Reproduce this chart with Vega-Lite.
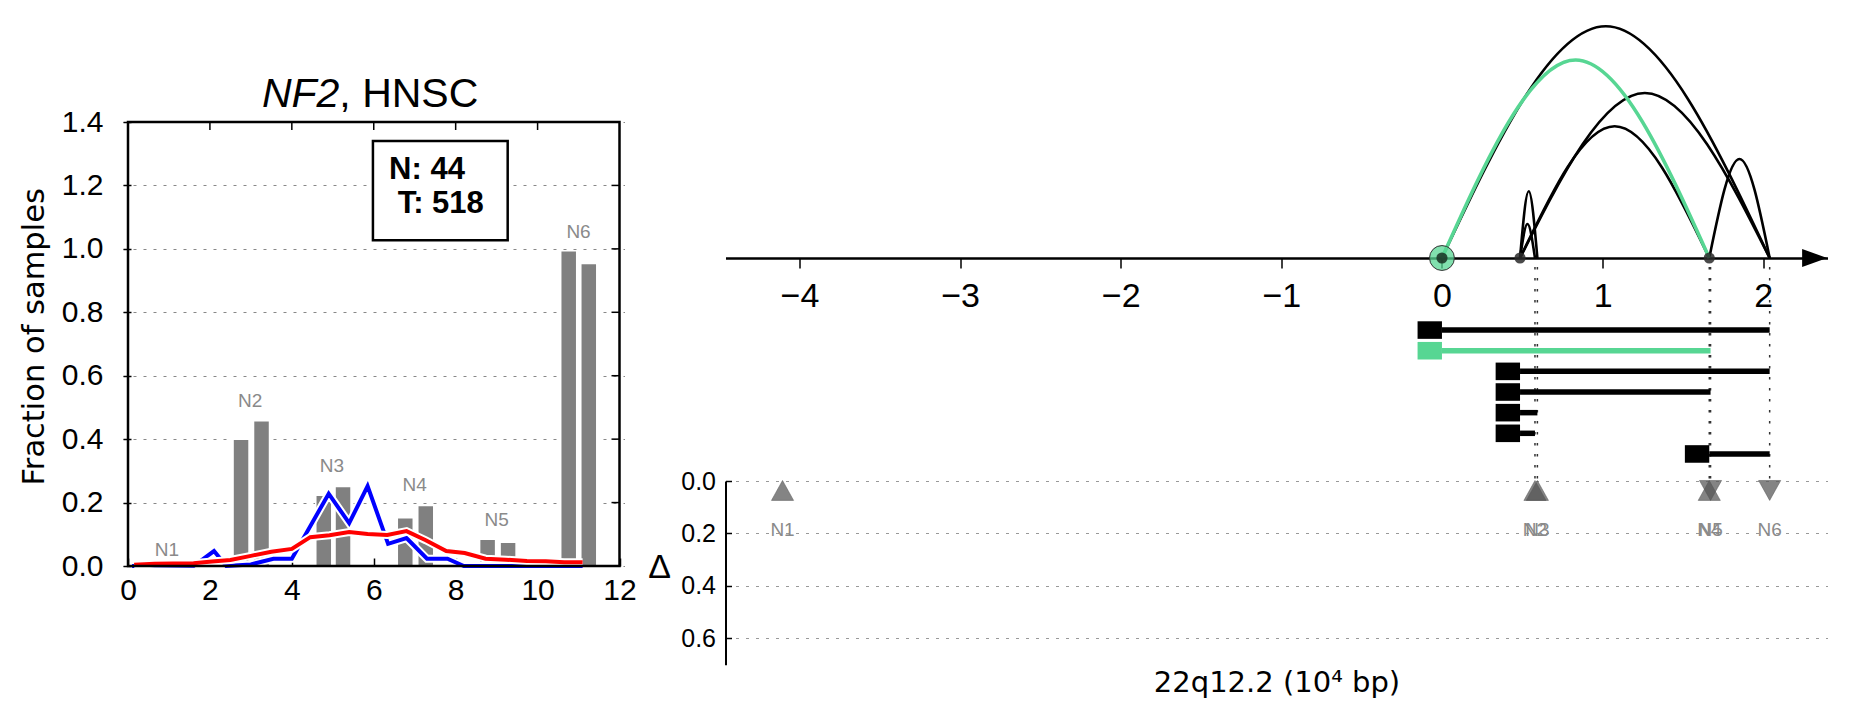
{
  "$schema": "https://vega.github.io/schema/vega-lite/v6.json",
  "background": "white",
  "padding": {"left": 19, "top": 21, "right": 0, "bottom": 0},
  "config": {
    "font": "Liberation Sans",
    "view": {"stroke": null},
    "axis": {"labelFont": "Liberation Sans", "titleFont": "Liberation Sans", "labelColor": "black", "titleColor": "black", "titleFontWeight": "normal", "domainColor": "black", "tickColor": "black"}
  },
  "datasets": {
    "bars": [
      {"pos": 2.76, "frac": 0.40}, {"pos": 3.26, "frac": 0.458},
      {"pos": 4.78, "frac": 0.223}, {"pos": 5.25, "frac": 0.251},
      {"pos": 6.77, "frac": 0.152}, {"pos": 7.27, "frac": 0.191},
      {"pos": 8.78, "frac": 0.084}, {"pos": 9.28, "frac": 0.075},
      {"pos": 10.76, "frac": 0.994}, {"pos": 11.25, "frac": 0.954}
    ],
    "blue": [
      {"x": 0.1, "y": 0}, {"x": 0.6, "y": 0}, {"x": 1.1, "y": 0}, {"x": 1.6, "y": 0},
      {"x": 2.1, "y": 0.047}, {"x": 2.4, "y": 0}, {"x": 3.0, "y": 0.005}, {"x": 3.55, "y": 0.023},
      {"x": 4.0, "y": 0.023}, {"x": 4.9, "y": 0.228}, {"x": 5.4, "y": 0.135}, {"x": 5.85, "y": 0.252},
      {"x": 6.35, "y": 0.07}, {"x": 6.8, "y": 0.088}, {"x": 7.3, "y": 0.023}, {"x": 7.8, "y": 0.023},
      {"x": 8.2, "y": 0}, {"x": 8.7, "y": 0}, {"x": 9.2, "y": 0}, {"x": 9.7, "y": 0},
      {"x": 10.2, "y": 0}, {"x": 10.65, "y": 0}, {"x": 11.1, "y": 0}
    ],
    "red": [
      {"x": 0.15, "y": 0.004}, {"x": 0.65, "y": 0.007}, {"x": 1.1, "y": 0.008}, {"x": 1.6, "y": 0.009},
      {"x": 2.05, "y": 0.014}, {"x": 2.5, "y": 0.019}, {"x": 3.0, "y": 0.032}, {"x": 3.5, "y": 0.045},
      {"x": 4.0, "y": 0.054}, {"x": 4.45, "y": 0.091}, {"x": 4.92, "y": 0.097}, {"x": 5.4, "y": 0.107},
      {"x": 5.85, "y": 0.101}, {"x": 6.33, "y": 0.098}, {"x": 6.8, "y": 0.11}, {"x": 7.27, "y": 0.081},
      {"x": 7.77, "y": 0.047}, {"x": 8.22, "y": 0.041}, {"x": 8.73, "y": 0.023}, {"x": 9.23, "y": 0.02},
      {"x": 9.74, "y": 0.016}, {"x": 10.2, "y": 0.015}, {"x": 10.65, "y": 0.012}, {"x": 11.1, "y": 0.012}
    ],
    "barlabels": [
      {"name": "N1", "x": 0.95, "y": 0.05}, {"name": "N2", "x": 2.98, "y": 0.52},
      {"name": "N3", "x": 4.98, "y": 0.315}, {"name": "N4", "x": 7.0, "y": 0.255},
      {"name": "N5", "x": 9.0, "y": 0.145}, {"name": "N6", "x": 11.0, "y": 1.053}
    ],
    "yt": [{"v": 0.2}, {"v": 0.4}, {"v": 0.6}, {"v": 0.8}, {"v": 1.0}, {"v": 1.2}],
    "xt": [{"v": 2}, {"v": 4}, {"v": 6}, {"v": 8}, {"v": 10}],
    "arcs": [
      {"id": "A", "x": 0, "h": 0}, {"id": "A", "x": 1.02, "h": 231.7}, {"id": "A", "x": 2.04, "h": 0},
      {"id": "C", "x": 0.486, "h": 0}, {"id": "C", "x": 1.263, "h": 165}, {"id": "C", "x": 2.04, "h": 0},
      {"id": "D", "x": 0.486, "h": 0}, {"id": "D", "x": 1.075, "h": 131.7}, {"id": "D", "x": 1.664, "h": 0},
      {"id": "E", "x": 0.486, "h": 0}, {"id": "E", "x": 0.54, "h": 66.7}, {"id": "E", "x": 0.594, "h": 0},
      {"id": "F", "x": 0.486, "h": 0}, {"id": "F", "x": 0.5325, "h": 34}, {"id": "F", "x": 0.579, "h": 0},
      {"id": "G", "x": 1.664, "h": 0}, {"id": "G", "x": 1.852, "h": 99}, {"id": "G", "x": 2.04, "h": 0}
    ],
    "arcsel": [
      {"id": "B", "x": 0, "h": 0}, {"id": "B", "x": 0.832, "h": 198}, {"id": "B", "x": 1.664, "h": 0}
    ],
    "nodes": [{"x": 0.486}, {"x": 1.664}],
    "segs": [
      {"row": 1, "start": 0, "end": 2.04, "kind": "other"},
      {"row": 2, "start": 0, "end": 1.672, "kind": "selected"},
      {"row": 3, "start": 0.486, "end": 2.04, "kind": "other"},
      {"row": 4, "start": 0.486, "end": 1.672, "kind": "other"},
      {"row": 5, "start": 0.486, "end": 0.594, "kind": "other"},
      {"row": 6, "start": 0.486, "end": 0.579, "kind": "other"},
      {"row": 7, "start": 1.664, "end": 2.04, "kind": "other"}
    ],
    "bp": [
      {"name": "N1", "x": -4.105, "dir": "up", "delta": 0.036},
      {"name": "N2", "x": 0.579, "dir": "up", "delta": 0.036},
      {"name": "N3", "x": 0.594, "dir": "up", "delta": 0.036},
      {"name": "N4", "x": 1.664, "dir": "up", "delta": 0.036},
      {"name": "N5", "x": 1.672, "dir": "down", "delta": 0.036},
      {"name": "N6", "x": 2.04, "dir": "down", "delta": 0.036}
    ]
  },
  "hconcat": [
    {
      "width": 501.5,
      "height": 542,
      "layer": [
        {
          "data": {"name": "bars"},
          "mark": {"type": "bar", "width": 16, "fill": "#808080", "stroke": "white", "strokeWidth": 1.5},
          "encoding": {
            "x": {"field": "pos", "type": "quantitative", "scale": {"domain": [0, 12], "nice": false, "zero": false},
                  "axis": {"values": [0, 2, 4, 6, 8, 10, 12], "format": "d", "title": null, "grid": false, "domain": false, "tickSize": -8, "tickWidth": 1.5, "labelFontSize": 30, "labelPadding": 17}},
            "y": {"field": "frac", "type": "quantitative", "scale": {"domain": [0, 1.4], "nice": false, "range": [542, 98]},
                  "axis": {"values": [0, 0.2, 0.4, 0.6, 0.8, 1.0, 1.2, 1.4], "format": ".1f", "title": "Fraction of samples", "titleFont": "DejaVu Sans", "titleFontSize": 30.5, "titleAngle": 270, "titleX": -80, "titleY": 312.3, "titleAlign": "center", "titleBaseline": "alphabetic", "grid": true, "gridDash": [3, 7], "gridColor": "#888", "gridWidth": 1, "domain": false, "tickSize": -8, "tickWidth": 1.5, "labelFontSize": 30, "labelPadding": 28}}
          }
        },
        {
          "data": {"name": "blue"},
          "mark": {"type": "line", "stroke": "white", "strokeWidth": 8},
          "encoding": {"x": {"field": "x", "type": "quantitative"}, "y": {"field": "y", "type": "quantitative"}}
        },
        {
          "data": {"name": "blue"},
          "mark": {"type": "line", "stroke": "#0000ff", "strokeWidth": 4},
          "encoding": {"x": {"field": "x", "type": "quantitative"}, "y": {"field": "y", "type": "quantitative"}}
        },
        {
          "data": {"name": "red"},
          "mark": {"type": "line", "stroke": "white", "strokeWidth": 8},
          "encoding": {"x": {"field": "x", "type": "quantitative"}, "y": {"field": "y", "type": "quantitative"}}
        },
        {
          "data": {"name": "red"},
          "mark": {"type": "line", "stroke": "#ff0000", "strokeWidth": 4},
          "encoding": {"x": {"field": "x", "type": "quantitative"}, "y": {"field": "y", "type": "quantitative"}}
        },
        {
          "data": {"name": "barlabels"},
          "mark": {"type": "text", "fontSize": 19, "fill": "#8a8a8a", "baseline": "middle", "align": "center"},
          "encoding": {"x": {"field": "x", "type": "quantitative"}, "y": {"field": "y", "type": "quantitative"}, "text": {"field": "name"}}
        },
        {
          "data": {"values": [{}]},
          "mark": {"type": "rect", "fill": "white", "stroke": "black", "strokeWidth": 2.5},
          "encoding": {"x": {"datum": 5.98}, "x2": {"datum": 9.27}, "y": {"datum": 1.34}, "y2": {"datum": 1.027}}
        },
        {
          "data": {"values": [{}]},
          "mark": {"type": "text", "text": "N: 44", "fontSize": 31, "fontWeight": "bold", "align": "left", "baseline": "middle"},
          "encoding": {"x": {"datum": 6.375}, "y": {"datum": 1.25}}
        },
        {
          "data": {"values": [{}]},
          "mark": {"type": "text", "text": "T: 518", "fontSize": 31, "fontWeight": "bold", "align": "left", "baseline": "middle"},
          "encoding": {"x": {"datum": 6.584}, "y": {"datum": 1.14}}
        },
        {
          "data": {"values": [{}]},
          "mark": {"type": "text", "text": "NF2", "fontSize": 41, "fontStyle": "italic", "align": "right", "baseline": "alphabetic"},
          "encoding": {"x": {"datum": 5.16}, "y": {"datum": 1.4475}}
        },
        {
          "data": {"values": [{}]},
          "mark": {"type": "text", "text": ", HNSC", "fontSize": 41, "align": "left", "baseline": "alphabetic"},
          "encoding": {"x": {"datum": 5.16}, "y": {"datum": 1.4475}}
        },
        {
          "data": {"name": "yt"},
          "mark": {"type": "tick", "orient": "horizontal", "size": 8, "thickness": 1.5, "color": "black", "opacity": 1, "xOffset": -4},
          "encoding": {"x": {"datum": 12}, "y": {"field": "v", "type": "quantitative"}}
        },
        {
          "data": {"name": "xt"},
          "mark": {"type": "tick", "orient": "vertical", "size": 8, "thickness": 1.5, "color": "black", "opacity": 1, "yOffset": 4},
          "encoding": {"x": {"field": "v", "type": "quantitative"}, "y": {"datum": 1.4}}
        },
        {
          "data": {"values": [{}]},
          "mark": {"type": "rect", "filled": false, "stroke": "black", "strokeWidth": 2.5},
          "encoding": {"x": {"datum": 0}, "x2": {"datum": 12}, "y": {"datum": 0}, "y2": {"datum": 1.4}}
        }
      ]
    },
    {
      "vconcat": [
        {
          "width": 1102,
          "height": 234,
          "layer": [
            {
              "data": {"name": "arcs"},
              "mark": {"type": "line", "interpolate": "natural", "stroke": "black", "strokeWidth": 2.6},
              "encoding": {
                "x": {"field": "x", "type": "quantitative", "scale": {"domain": [-4.46, 2.4], "nice": false, "zero": false},
                      "axis": {"values": [-4, -3, -2, -1, 0, 1, 2], "format": "d", "title": null, "grid": false, "domain": true, "domainColor": "black", "domainWidth": 2.5, "tickSize": 10, "tickWidth": 1.5, "labelFontSize": 34, "labelPadding": 11}},
                "y": {"field": "h", "type": "quantitative", "scale": {"domain": [0, 234], "nice": false}, "axis": null},
                "detail": {"field": "id"}
              }
            },
            {
              "data": {"name": "arcsel"},
              "mark": {"type": "line", "interpolate": "natural", "stroke": "#57d693", "strokeWidth": 3.6},
              "encoding": {
                "x": {"field": "x", "type": "quantitative"},
                "y": {"field": "h", "type": "quantitative"},
                "detail": {"field": "id"}
              }
            },
            {
              "data": {"values": [{}]},
              "mark": {"type": "point", "filled": true, "fill": "#57d693", "fillOpacity": 0.75, "stroke": "#333", "strokeWidth": 1, "size": 620},
              "encoding": {"x": {"datum": 0}, "y": {"datum": 0}}
            },
            {
              "data": {"values": [{}]},
              "mark": {"type": "point", "filled": true, "fill": "#1e3a2a", "opacity": 0.9, "size": 125},
              "encoding": {"x": {"datum": 0}, "y": {"datum": 0}}
            },
            {
              "data": {"name": "nodes"},
              "mark": {"type": "point", "filled": true, "fill": "#2a2a2a", "opacity": 0.85, "size": 125},
              "encoding": {"x": {"field": "x", "type": "quantitative"}, "y": {"datum": 0}}
            },
            {
              "data": {"values": [{}]},
              "mark": {"type": "point", "shape": "M-1,-0.72L1,0L-1,0.72Z", "filled": true, "fill": "black", "opacity": 1, "size": 625},
              "encoding": {"x": {"datum": 2.32}, "y": {"datum": 0}}
            }
          ]
        },
        {
          "width": 1102,
          "height": 222.6,
          "layer": [
            {
              "data": {"name": "bp"},
              "transform": [{"filter": "datum.name != 'N1'"}],
              "mark": {"type": "rule", "stroke": "#333", "strokeWidth": 1.5, "strokeDash": [2.5, 8.5]},
              "encoding": {
                "x": {"field": "x", "type": "quantitative", "scale": {"domain": [-4.46, 2.4], "nice": false, "zero": false}, "axis": null},
                "y": {"datum": -2.05, "type": "quantitative", "scale": {"domain": [-2.49, 8.29], "nice": false, "zero": false, "reverse": true}, "axis": null},
                "y2": {"datum": 8.29}
              }
            },
            {
              "data": {"name": "segs"},
              "mark": {"type": "rule", "strokeWidth": 5.5},
              "encoding": {
                "x": {"field": "start", "type": "quantitative"},
                "x2": {"field": "end"},
                "y": {"field": "row", "type": "quantitative"},
                "color": {"field": "kind", "type": "nominal", "scale": {"domain": ["other", "selected"], "range": ["black", "#57d693"]}, "legend": null}
              }
            },
            {
              "data": {"name": "segs"},
              "mark": {"type": "point", "shape": "M-1,-0.36L0,-0.36L0,0.36L-1,0.36Z", "filled": true, "opacity": 1, "size": 2381},
              "encoding": {
                "x": {"field": "start", "type": "quantitative"},
                "y": {"field": "row", "type": "quantitative"},
                "color": {"field": "kind", "type": "nominal", "scale": {"domain": ["other", "selected"], "range": ["black", "#57d693"]}, "legend": null}
              }
            }
          ]
        },
        {
          "width": 1102,
          "height": 183.7,
          "layer": [
            {
              "data": {"name": "bp"},
              "mark": {"type": "point", "filled": true, "fill": "#555", "fillOpacity": 0.72, "stroke": "#555", "strokeOpacity": 0.5, "strokeWidth": 1, "size": 490},
              "encoding": {
                "x": {"field": "x", "type": "quantitative", "scale": {"domain": [-4.46, 2.4], "nice": false, "zero": false},
                      "axis": {"title": "22q12.2 (10⁴ bp)", "titleFont": "DejaVu Sans", "titleFontSize": 29, "titlePadding": 4, "labels": false, "ticks": false, "domain": false, "grid": false}},
                "y": {"field": "delta", "type": "quantitative", "scale": {"domain": [0, 0.7], "nice": false, "reverse": true},
                      "axis": {"values": [0, 0.2, 0.4, 0.6], "format": ".1f", "title": "Δ", "titleFontSize": 34, "titleAngle": 0, "titleX": -66.5, "titleY": 96, "titleAlign": "center", "titleBaseline": "alphabetic", "grid": true, "gridDash": [3, 7], "gridColor": "#999", "gridWidth": 1, "domain": true, "domainWidth": 2, "tickSize": -6, "tickWidth": 1.5, "labelFontSize": 25, "labelPadding": 16}},
                "shape": {"field": "dir", "type": "nominal", "scale": {"domain": ["up", "down"], "range": ["M0,-0.9L1,0.9L-1,0.9Z", "M0,0.9L1,-0.9L-1,-0.9Z"]}, "legend": null}
              }
            },
            {
              "data": {"name": "bp"},
              "mark": {"type": "text", "fontSize": 19, "fill": "#8a8a8a", "baseline": "middle", "align": "center"},
              "encoding": {
                "x": {"field": "x", "type": "quantitative"},
                "y": {"datum": 0.187},
                "text": {"field": "name"}
              }
            }
          ]
        }
      ],
      "spacing": 0,
      "bounds": "flush",
      "resolve": {"scale": {"x": "independent", "y": "independent"}}
    }
  ],
  "spacing": 100.5,
  "bounds": "flush",
  "resolve": {"scale": {"x": "independent", "y": "independent"}}
}
